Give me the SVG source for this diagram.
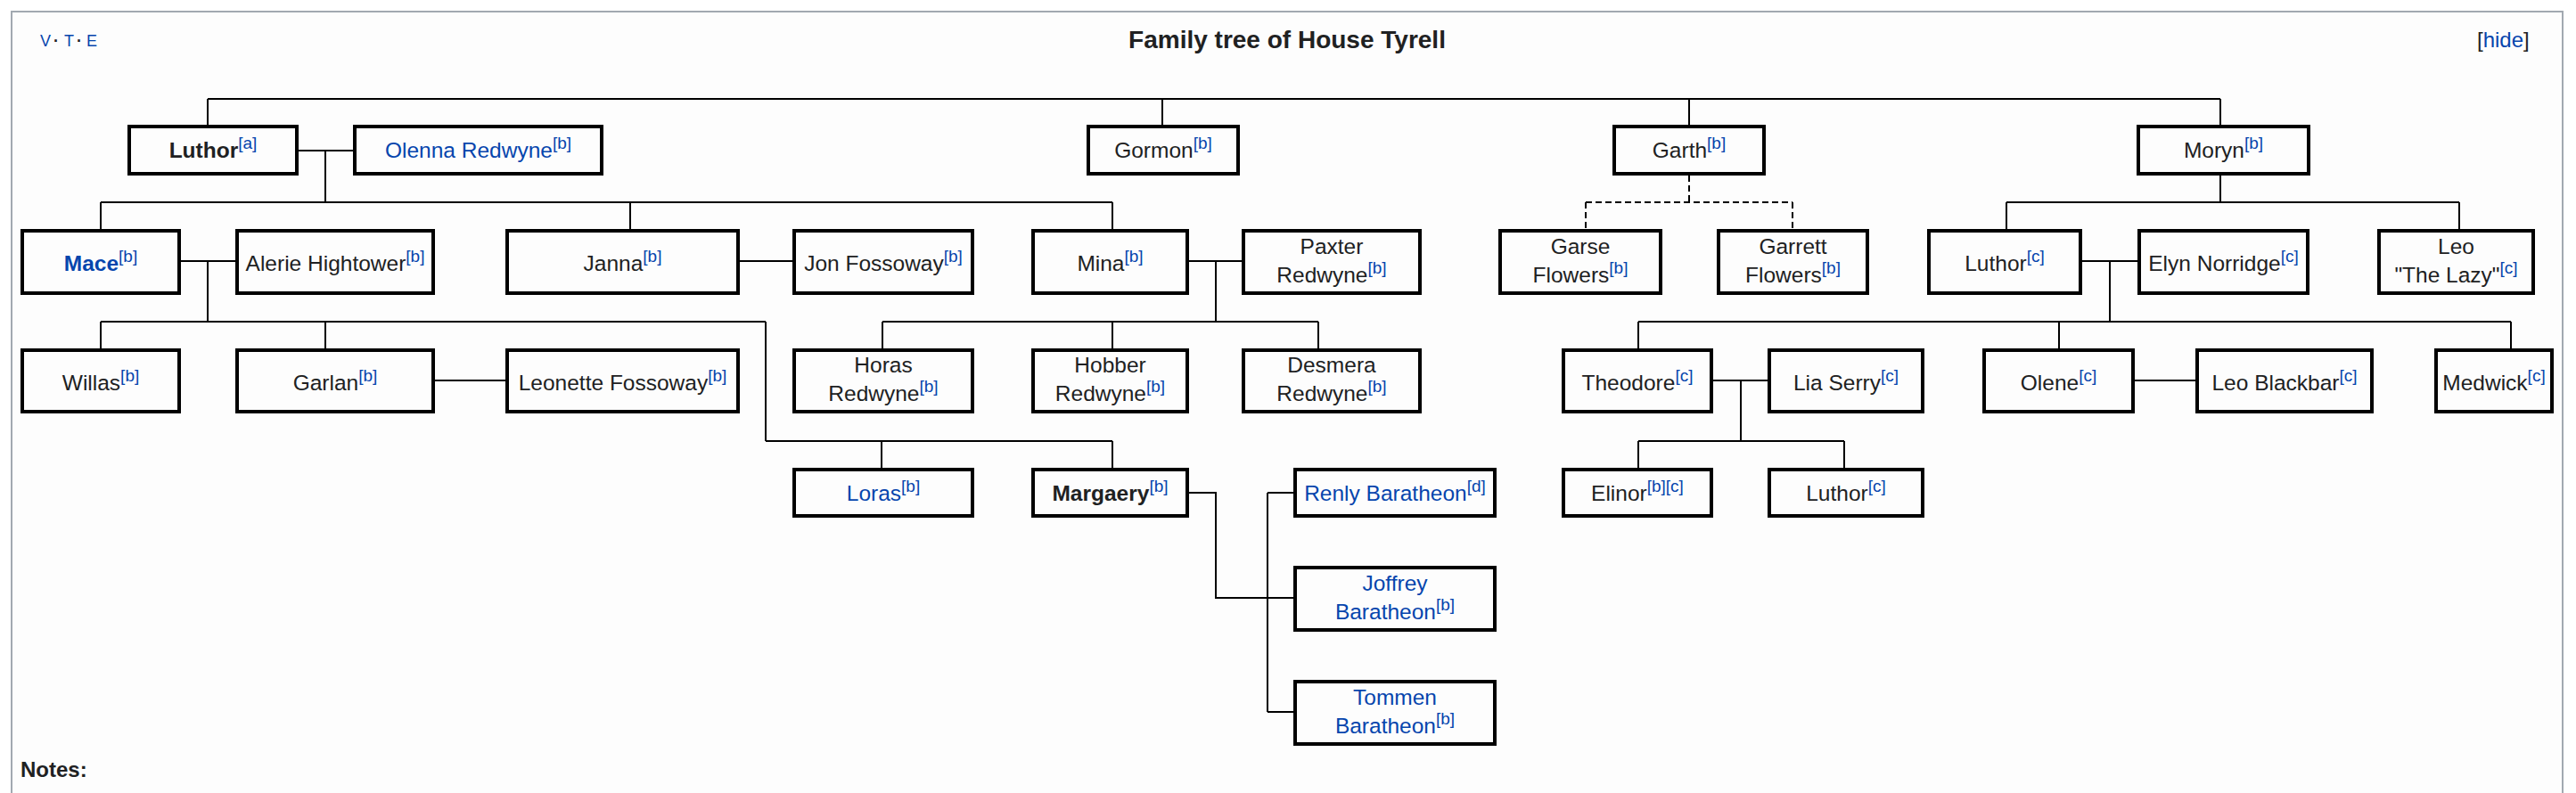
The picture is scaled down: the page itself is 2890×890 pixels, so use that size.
<svg xmlns="http://www.w3.org/2000/svg" width="2890" height="890" viewBox="0 0 2890 890">
<style>
.frame{fill:#fdfdfd;stroke:#a2a9b1;stroke-width:2}
.box{fill:#fdfdfd;stroke:#000;stroke-width:4}
.t{font-family:"Liberation Sans",Arial,Helvetica,sans-serif;font-size:24.5px;fill:#202122;text-anchor:middle}
.b{font-weight:bold}
.lk{fill:#0645ad}
.sup{font-size:19px;fill:#0645ad;font-weight:normal}
.ln{stroke:#000;stroke-width:2;fill:none}
.dash{stroke-dasharray:7,4}
.hdr{font-family:"Liberation Sans",Arial,Helvetica,sans-serif;fill:#202122}
</style>
<rect x="0" y="0" width="2890" height="890" fill="#ffffff"/>
<rect class="frame" x="13" y="13" width="2862" height="900"/>
<g id="header">
<text class="hdr" x="45" y="52" font-size="18" fill="#0645ad"><tspan fill="#0645ad">V</tspan><tspan x="60" font-weight="bold" fill="#202122">·</tspan><tspan x="72" fill="#0645ad">T</tspan><tspan x="86" font-weight="bold" fill="#202122">·</tspan><tspan x="97" fill="#0645ad">E</tspan></text>
<text class="hdr b" x="1444" y="54" font-size="28" text-anchor="middle" font-weight="bold">Family tree of House Tyrell</text>
<text class="hdr" x="2779" y="53" font-size="24">[<tspan fill="#0645ad">hide</tspan>]</text>
<text class="hdr" x="23" y="872" font-size="24" font-weight="bold">Notes:</text>
</g>
<g id="connectors">
<path class="ln" d="M233 111H2491M233 111V140M1304 111V140M1895 111V140M2491 111V140"/>
<path class="ln" d="M335 169H396M365 169V227M113 227H1248M113 227V257M707 227V257M1248 227V257"/>
<path class="ln" d="M203 293H264M233 293V361M113 361H859M113 361V391M365 361V391M859 361V495"/>
<path class="ln" d="M830 293H889"/>
<path class="ln" d="M1334 293H1393M1364 293V361M990 361H1479M990 361V391M1248 361V391M1479 361V391"/>
<path class="ln" d="M488 427H567"/>
<path class="ln" d="M859 495H1248M989 495V525M1248 495V525"/>
<path class="ln" d="M1334 553H1364V671H1451M1422 553V799M1422 553H1451M1422 799H1451"/>
<path class="ln dash" d="M1895 197V227M1779 227H2011M1779 227V257M2011 227V257"/>
<path class="ln" d="M2491 197V227M2251 227H2759M2251 227V257M2759 227V257"/>
<path class="ln" d="M2336 293H2398M2367 293V361M1838 361H2817M1838 361V391M2310 361V391M2817 361V391"/>
<path class="ln" d="M1922 427H1983M1953 427V495M1838 495H2069M1838 495V525M2069 495V525"/>
<path class="ln" d="M2395 427H2463"/>
</g>
<g id="luthor-a"><rect class="box" x="145" y="142" width="188" height="53"/><text class="t b" x="239" y="177">Luthor<tspan class="sup" dy="-10">[a]</tspan></text></g>
<g id="olenna"><rect class="box" x="398" y="142" width="277" height="53"/><text class="t lk" x="536.5" y="177">Olenna Redwyne<tspan class="sup" dy="-10">[b]</tspan></text></g>
<g id="gormon"><rect class="box" x="1221" y="142" width="168" height="53"/><text class="t" x="1305" y="177">Gormon<tspan class="sup" dy="-10">[b]</tspan></text></g>
<g id="garth"><rect class="box" x="1811" y="142" width="168" height="53"/><text class="t" x="1895" y="177">Garth<tspan class="sup" dy="-10">[b]</tspan></text></g>
<g id="moryn"><rect class="box" x="2399" y="142" width="191" height="53"/><text class="t" x="2494.5" y="177">Moryn<tspan class="sup" dy="-10">[b]</tspan></text></g>

<g id="mace"><rect class="box" x="25" y="259" width="176" height="70"/><text class="t b lk" x="113" y="304">Mace<tspan class="sup" dy="-10">[b]</tspan></text></g>
<g id="alerie"><rect class="box" x="266" y="259" width="220" height="70"/><text class="t" x="376" y="304">Alerie Hightower<tspan class="sup" dy="-10">[b]</tspan></text></g>
<g id="janna"><rect class="box" x="569" y="259" width="259" height="70"/><text class="t" x="698.5" y="304">Janna<tspan class="sup" dy="-10">[b]</tspan></text></g>
<g id="jon"><rect class="box" x="891" y="259" width="200" height="70"/><text class="t" x="991" y="304">Jon Fossoway<tspan class="sup" dy="-10">[b]</tspan></text></g>
<g id="mina"><rect class="box" x="1159" y="259" width="173" height="70"/><text class="t" x="1245.5" y="304">Mina<tspan class="sup" dy="-10">[b]</tspan></text></g>
<g id="paxter"><rect class="box" x="1395" y="259" width="198" height="70"/><text class="t" x="1494" y="285">Paxter</text><text class="t" x="1494" y="317">Redwyne<tspan class="sup" dy="-10">[b]</tspan></text></g>
<g id="garse"><rect class="box" x="1683" y="259" width="180" height="70"/><text class="t" x="1773" y="285">Garse</text><text class="t" x="1773" y="317">Flowers<tspan class="sup" dy="-10">[b]</tspan></text></g>
<g id="garrett"><rect class="box" x="1928" y="259" width="167" height="70"/><text class="t" x="2011.5" y="285">Garrett</text><text class="t" x="2011.5" y="317">Flowers<tspan class="sup" dy="-10">[b]</tspan></text></g>
<g id="luthor-c"><rect class="box" x="2164" y="259" width="170" height="70"/><text class="t" x="2249" y="304">Luthor<tspan class="sup" dy="-10">[c]</tspan></text></g>
<g id="elyn"><rect class="box" x="2400" y="259" width="189" height="70"/><text class="t" x="2494.5" y="304">Elyn Norridge<tspan class="sup" dy="-10">[c]</tspan></text></g>
<g id="leo"><rect class="box" x="2669" y="259" width="173" height="70"/><text class="t" x="2755.5" y="285">Leo</text><text class="t" x="2755.5" y="317">"The Lazy"<tspan class="sup" dy="-10">[c]</tspan></text></g>

<g id="willas"><rect class="box" x="25" y="393" width="176" height="69"/><text class="t" x="113" y="438">Willas<tspan class="sup" dy="-10">[b]</tspan></text></g>
<g id="garlan"><rect class="box" x="266" y="393" width="220" height="69"/><text class="t" x="376" y="438">Garlan<tspan class="sup" dy="-10">[b]</tspan></text></g>
<g id="leonette"><rect class="box" x="569" y="393" width="259" height="69"/><text class="t" x="698.5" y="438">Leonette Fossoway<tspan class="sup" dy="-10">[b]</tspan></text></g>
<g id="horas"><rect class="box" x="891" y="393" width="200" height="69"/><text class="t" x="991" y="418">Horas</text><text class="t" x="991" y="450">Redwyne<tspan class="sup" dy="-10">[b]</tspan></text></g>
<g id="hobber"><rect class="box" x="1159" y="393" width="173" height="69"/><text class="t" x="1245.5" y="418">Hobber</text><text class="t" x="1245.5" y="450">Redwyne<tspan class="sup" dy="-10">[b]</tspan></text></g>
<g id="desmera"><rect class="box" x="1395" y="393" width="198" height="69"/><text class="t" x="1494" y="418">Desmera</text><text class="t" x="1494" y="450">Redwyne<tspan class="sup" dy="-10">[b]</tspan></text></g>
<g id="theodore"><rect class="box" x="1754" y="393" width="166" height="69"/><text class="t" x="1837" y="438">Theodore<tspan class="sup" dy="-10">[c]</tspan></text></g>
<g id="lia"><rect class="box" x="1985" y="393" width="172" height="69"/><text class="t" x="2071" y="438">Lia Serry<tspan class="sup" dy="-10">[c]</tspan></text></g>
<g id="olene"><rect class="box" x="2226" y="393" width="167" height="69"/><text class="t" x="2309.5" y="438">Olene<tspan class="sup" dy="-10">[c]</tspan></text></g>
<g id="leo-blackbar"><rect class="box" x="2465" y="393" width="196" height="69"/><text class="t" x="2563" y="438">Leo Blackbar<tspan class="sup" dy="-10">[c]</tspan></text></g>
<g id="medwick"><rect class="box" x="2733" y="393" width="130" height="69"/><text class="t" x="2798" y="438">Medwick<tspan class="sup" dy="-10">[c]</tspan></text></g>

<g id="loras"><rect class="box" x="891" y="527" width="200" height="52"/><text class="t lk" x="991" y="562">Loras<tspan class="sup" dy="-10">[b]</tspan></text></g>
<g id="margaery"><rect class="box" x="1159" y="527" width="173" height="52"/><text class="t b" x="1245.5" y="562">Margaery<tspan class="sup" dy="-10">[b]</tspan></text></g>
<g id="renly"><rect class="box" x="1453" y="527" width="224" height="52"/><text class="t lk" x="1565" y="562">Renly Baratheon<tspan class="sup" dy="-10">[d]</tspan></text></g>
<g id="elinor"><rect class="box" x="1754" y="527" width="166" height="52"/><text class="t" x="1837" y="562">Elinor<tspan class="sup" dy="-10">[b][c]</tspan></text></g>
<g id="luthor-c2"><rect class="box" x="1985" y="527" width="172" height="52"/><text class="t" x="2071" y="562">Luthor<tspan class="sup" dy="-10">[c]</tspan></text></g>
<g id="joffrey"><rect class="box" x="1453" y="637" width="224" height="70"/><text class="t lk" x="1565" y="663">Joffrey</text><text class="t lk" x="1565" y="695">Baratheon<tspan class="sup" dy="-10">[b]</tspan></text></g>
<g id="tommen"><rect class="box" x="1453" y="765" width="224" height="70"/><text class="t lk" x="1565" y="791">Tommen</text><text class="t lk" x="1565" y="823">Baratheon<tspan class="sup" dy="-10">[b]</tspan></text></g>
</svg>
